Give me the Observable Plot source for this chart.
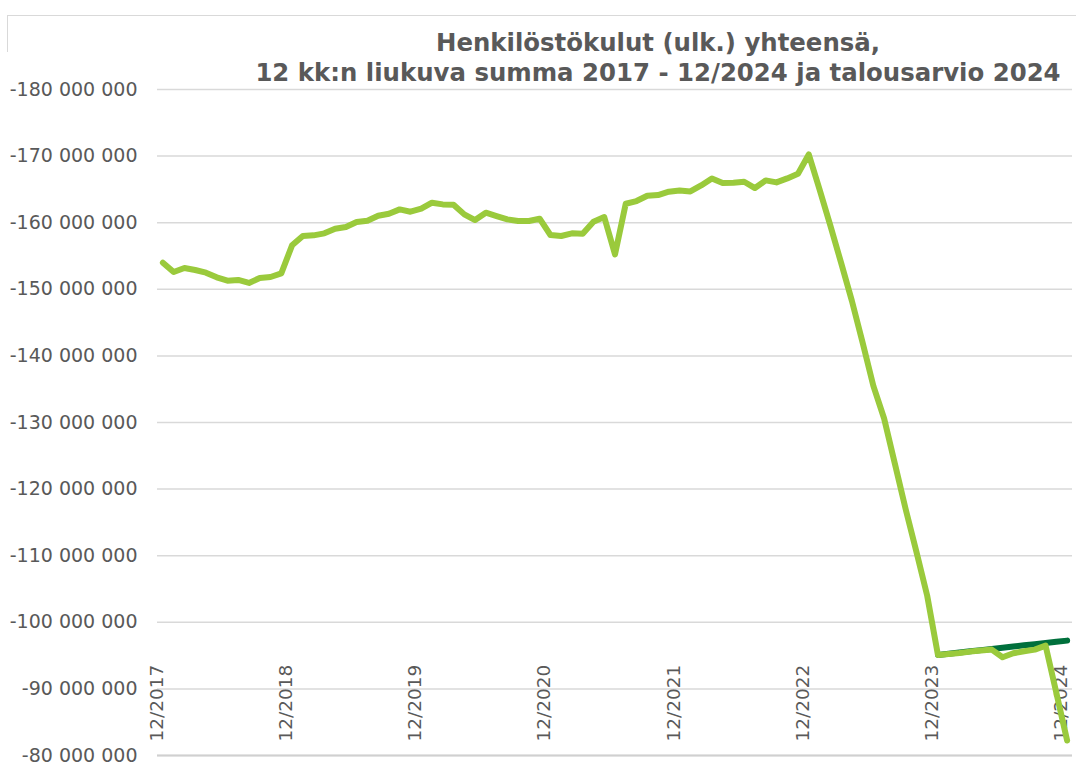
<!DOCTYPE html>
<html>
<head>
<meta charset="utf-8">
<script src="https://cdn.jsdelivr.net/npm/d3@7"></script>
<script src="https://cdn.jsdelivr.net/npm/@observablehq/plot@0.6"></script>
<style>
  html, body { margin: 0; padding: 0; background: #fff; }
  #wrap { position: relative; width: 1076px; height: 767px; overflow: hidden; background: #fff; }
  #title {
    position: absolute; top: 0; left: 0; width: 1076px; box-sizing: border-box;
    padding-top: 28px; padding-left: 240px; text-align: center;
    font-family: "DejaVu Sans", Verdana, sans-serif; font-weight: bold; font-size: 24.4px;
    line-height: 30px; color: #595959; z-index: 2; pointer-events: none;
  }
  #bTop { position: absolute; left: 7px; top: 15px; width: 1069px; height: 0; border-top: 1px solid #d9d9d9; z-index: 1; }
  #bLeft { position: absolute; left: 7px; top: 15px; width: 0; height: 37px; border-left: 1px solid #d9d9d9; z-index: 1; }
</style>
</head>
<body>
<div id="wrap">
  <div id="bTop"></div><div id="bLeft"></div>
  <div id="title">Henkilöstökulut (ulk.) yhteensä,<br>12 kk:n liukuva summa 2017 - 12/2024 ja talousarvio 2024</div>
  <div id="chart"></div>
</div>
<script>
// Monthly 12-month rolling sum (millions €), 12/2017 ... 12/2024 (85 months)
const actualValues = [
  -154.0, -152.6, -153.2, -152.9, -152.5, -151.8, -151.3, -151.4, -150.95, -151.7, -151.85, -152.4,
  -156.6, -158.0, -158.1, -158.4, -159.1, -159.35, -160.1, -160.3, -161.05, -161.35, -162.0, -161.65,
  -162.1, -163.0, -162.75, -162.7, -161.25, -160.4, -161.5, -161.0, -160.5, -160.25, -160.25, -160.6,
  -158.15, -158.0, -158.4, -158.35, -160.15, -160.85, -155.25, -162.85, -163.25, -164.05, -164.15, -164.65,
  -164.85, -164.7, -165.6, -166.65, -165.95, -166.0, -166.15, -165.2, -166.35, -166.05, -166.65, -167.35,
  -170.25, -165.0, -159.6, -154.0, -148.3, -142.0, -135.5, -130.6, -123.8, -117.0, -110.6, -104.0,
  -95.1, -95.25, -95.4, -95.6, -95.75, -95.9, -94.75, -95.35, -95.65, -95.9, -96.5, -89.4,
  -82.25
];
// Budget 2024 (millions €), months 12/2023 ... 12/2024
const budgetStartMonth = 72;
const budgetValues = [-95.1, -95.28, -95.46, -95.64, -95.82, -96.0, -96.18, -96.36, -96.54, -96.72, -96.9, -97.08, -97.25];

const xTickMonths = [0, 12, 24, 36, 48, 60, 72, 84];
const xTickLabels = ["12/2017", "12/2018", "12/2019", "12/2020", "12/2021", "12/2022", "12/2023", "12/2024"];
const yTicks = [-180, -170, -160, -150, -140, -130, -120, -110, -100, -90, -80];

const actual = actualValues.map((v, i) => ({i, v}));
const budget = budgetValues.map((v, k) => ({i: budgetStartMonth + k, v}));
const xLabels = xTickMonths.map((m, k) => ({i: m, label: xTickLabels[k]}));

const loc = d3.formatLocale({decimal: ",", thousands: " ", grouping: [3], currency: ["", ""], minus: "-"});
const fmt = loc.format(",.0f");

const plot = Plot.plot({
  width: 1076,
  height: 767,
  marginTop: 89,
  marginBottom: 12,
  marginLeft: 157,
  marginRight: 4,
  style: {fontFamily: "DejaVu Sans, Verdana, sans-serif", fontSize: "18px", color: "#595959", background: "transparent"},
  x: {type: "linear", domain: [-0.5, 84.5], axis: null},
  y: {domain: [-80, -180], axis: null},
  marks: [
    Plot.gridY(yTicks, {stroke: "#d9d9d9", strokeOpacity: 1, strokeWidth: 1.5}),
    Plot.ruleY([yTicks[yTicks.length - 1]], {stroke: "#d0d0d0", strokeWidth: 2}),
    Plot.axisY(yTicks, {label: null, tickSize: 0, tickPadding: 20, tickFormat: d => fmt(d * 1e6), fill: "#595959", fontSize: 19}),
    Plot.text(xLabels, {x: "i", frameAnchor: "bottom", text: "label", rotate: -90, textAnchor: "start", dy: -14, fill: "#595959", fontSize: 18.5}),
    Plot.line(budget, {x: "i", y: "v", stroke: "#00703c", strokeWidth: 6, strokeLinejoin: "round", strokeLinecap: "round"}),
    Plot.line(actual, {x: "i", y: "v", stroke: "#9aca3c", strokeWidth: 6, strokeLinejoin: "round", strokeLinecap: "round"})
  ]
});
document.getElementById("chart").appendChild(plot);
</script>
</body>
</html>
